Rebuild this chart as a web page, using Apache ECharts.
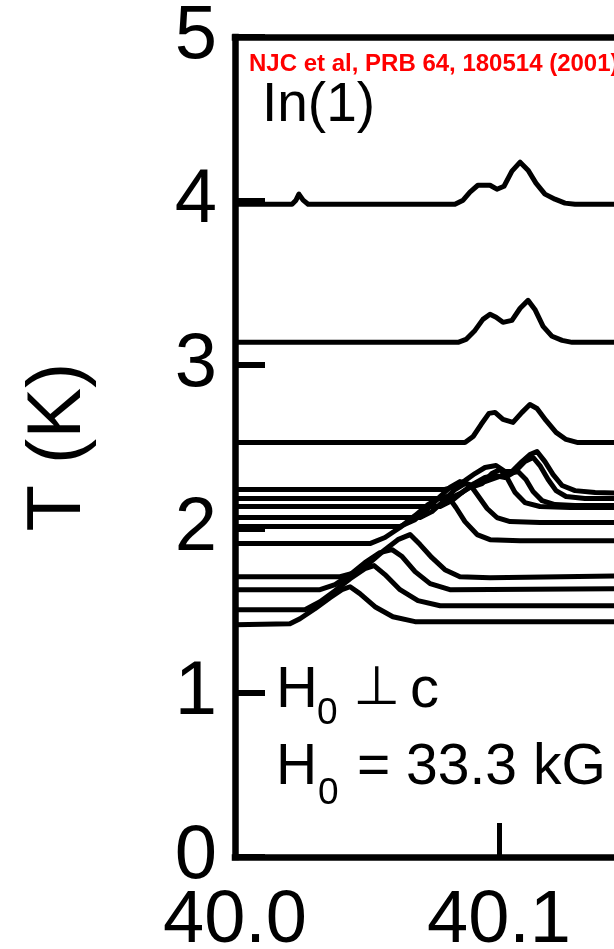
<!DOCTYPE html>
<html>
<head>
<meta charset="utf-8">
<script src="https://cdn.jsdelivr.net/npm/echarts@6/dist/echarts.min.js"></script>
<style>
html,body{margin:0;padding:0;background:#fff;}
#chart{width:614px;height:949px;}
</style>
</head>
<body>
<div id="chart"></div>
<script>
// Axis ticks
const xTicks = [40.0, 40.1, 40.2];
const yTicks = [0, 1, 2, 3, 4, 5];

// In(1) NMR spectra, each trace drawn at its temperature: [frequency (MHz), T (K)]
const trace_T398 = [[40.0000,3.980],[40.0216,3.980],[40.0231,4.005],[40.0242,4.042],[40.0258,4.005],[40.0277,3.980],[40.0833,3.980],[40.0864,4.005],[40.0890,4.054],[40.0920,4.096],[40.0966,4.096],[40.0992,4.072],[40.1019,4.090],[40.1049,4.182],[40.1080,4.237],[40.1110,4.188],[40.1140,4.109],[40.1174,4.042],[40.1212,4.011],[40.1250,3.987],[40.1288,3.980],[40.1534,3.980]];
const trace_T314 = [[40.0000,3.138],[40.0845,3.138],[40.0875,3.156],[40.0909,3.211],[40.0939,3.278],[40.0966,3.309],[40.0989,3.291],[40.1015,3.260],[40.1049,3.272],[40.1080,3.346],[40.1110,3.394],[40.1136,3.339],[40.1167,3.236],[40.1201,3.175],[40.1239,3.150],[40.1277,3.138],[40.1534,3.138]];
const trace_T253 = [[40.0000,2.527],[40.0871,2.527],[40.0902,2.564],[40.0932,2.637],[40.0962,2.705],[40.0985,2.711],[40.1015,2.668],[40.1053,2.650],[40.1087,2.711],[40.1117,2.759],[40.1144,2.735],[40.1178,2.662],[40.1216,2.589],[40.1254,2.546],[40.1299,2.527],[40.1534,2.527]];
const trace_T224 = [[40.0000,2.241],[40.0795,2.241],[40.0833,2.259],[40.0871,2.295],[40.0909,2.338],[40.0947,2.375],[40.0989,2.387],[40.1023,2.350],[40.1049,2.350],[40.1087,2.411],[40.1117,2.454],[40.1144,2.473],[40.1174,2.411],[40.1205,2.332],[40.1239,2.265],[40.1288,2.234],[40.1364,2.222],[40.1534,2.216]];
const trace_T219 = [[40.0000,2.186],[40.0814,2.186],[40.0860,2.222],[40.0905,2.277],[40.0947,2.314],[40.0985,2.326],[40.1023,2.314],[40.1061,2.350],[40.1098,2.411],[40.1129,2.436],[40.1155,2.387],[40.1186,2.302],[40.1216,2.234],[40.1254,2.198],[40.1326,2.186],[40.1534,2.186]];
const trace_T214 = [[40.0000,2.137],[40.0777,2.137],[40.0822,2.173],[40.0864,2.228],[40.0902,2.265],[40.0947,2.289],[40.0992,2.314],[40.1034,2.338],[40.1072,2.350],[40.1102,2.302],[40.1129,2.228],[40.1163,2.173],[40.1212,2.149],[40.1288,2.143],[40.1534,2.143]];
const trace_T207 = [[40.0000,2.070],[40.0701,2.070],[40.0746,2.106],[40.0788,2.167],[40.0833,2.241],[40.0871,2.277],[40.0902,2.259],[40.0936,2.277],[40.0973,2.338],[40.1004,2.363],[40.1030,2.314],[40.1061,2.222],[40.1098,2.161],[40.1155,2.137],[40.1269,2.131],[40.1534,2.131]];
const trace_T202 = [[40.0000,2.015],[40.0625,2.015],[40.0682,2.057],[40.0731,2.125],[40.0777,2.198],[40.0814,2.253],[40.0852,2.289],[40.0890,2.271],[40.0920,2.204],[40.0955,2.125],[40.0992,2.070],[40.1042,2.045],[40.1155,2.039],[40.1534,2.039]];
const trace_T191 = [[40.0000,1.911],[40.0511,1.911],[40.0568,1.948],[40.0625,2.009],[40.0682,2.082],[40.0731,2.149],[40.0777,2.192],[40.0807,2.198],[40.0837,2.131],[40.0871,2.045],[40.0917,1.966],[40.0966,1.935],[40.1080,1.929],[40.1534,1.929]];
const trace_T171 = [[40.0000,1.709],[40.0398,1.709],[40.0455,1.734],[40.0511,1.795],[40.0568,1.874],[40.0617,1.935],[40.0663,1.966],[40.0701,1.905],[40.0746,1.825],[40.0795,1.752],[40.0852,1.709],[40.0966,1.703],[40.1534,1.715]];
const trace_T163 = [[40.0000,1.630],[40.0322,1.630],[40.0379,1.661],[40.0436,1.722],[40.0492,1.795],[40.0549,1.856],[40.0595,1.874],[40.0633,1.832],[40.0682,1.740],[40.0739,1.667],[40.0814,1.630],[40.1534,1.636]];
const trace_T151 = [[40.0000,1.508],[40.0265,1.508],[40.0322,1.557],[40.0379,1.624],[40.0436,1.697],[40.0492,1.758],[40.0527,1.777],[40.0568,1.722],[40.0625,1.630],[40.0693,1.563],[40.0777,1.532],[40.1534,1.532]];
const trace_T142 = [[40.0000,1.416],[40.0208,1.422],[40.0246,1.453],[40.0303,1.514],[40.0360,1.581],[40.0405,1.630],[40.0436,1.648],[40.0473,1.606],[40.0530,1.526],[40.0598,1.465],[40.0682,1.435],[40.1534,1.435]];

const traces = [trace_T398, trace_T314, trace_T253, trace_T224, trace_T219, trace_T214,
  trace_T207, trace_T202, trace_T191, trace_T171, trace_T163, trace_T151, trace_T142];

const FONT = '"Liberation Sans", Arial, Helvetica, sans-serif';
const chart = echarts.init(document.getElementById('chart'), null, {renderer: 'canvas'});
const axisLine = {show: true, onZero: false, lineStyle: {color: '#000', width: 6.5, cap: 'square'}};

chart.setOption({
  animation: false,
  backgroundColor: '#fff',
  grid: {left: 235, top: 37, width: 528, height: 820, containLabel: false, outerBoundsMode: 'none'},
  xAxis: [{
    type: 'value', min: xTicks[0], max: xTicks[xTicks.length - 1], interval: 0.1,
    position: 'bottom', axisLine: axisLine,
    axisTick: {show: true, inside: true, length: 34, lineStyle: {color: '#000', width: 5}},
    axisLabel: {formatter: v => v.toFixed(1), fontSize: 74, color: '#000', fontFamily: FONT, margin: 28,
      showMinLabel: true, showMaxLabel: true, hideOverlap: false},
    splitLine: {show: false}
  }, {
    type: 'value', min: xTicks[0], max: xTicks[xTicks.length - 1], position: 'top',
    axisLine: axisLine, axisTick: {show: false}, axisLabel: {show: false}, splitLine: {show: false}
  }],
  yAxis: {
    type: 'value', min: yTicks[0], max: yTicks[yTicks.length - 1], interval: 1,
    axisLine: axisLine,
    axisTick: {show: true, inside: true, length: 30, lineStyle: {color: '#000', width: 6}},
    axisLabel: {fontSize: 76, color: '#000', fontFamily: FONT, margin: 18, showMinLabel: true, showMaxLabel: true},
    splitLine: {show: false},
    name: 'T (K)', nameLocation: 'middle', nameGap: 138,
    nameTextStyle: {fontSize: 76, color: '#000', fontFamily: FONT}
  },
  series: traces.map(d => ({
    type: 'line', data: d, xAxisIndex: 0, showSymbol: false, symbol: 'none',
    lineStyle: {color: '#000', width: 5, join: 'round'}, silent: true
  })),
  graphic: [
    {type: 'text', style: {text: 'NJC et al, PRB 64, 180514 (2001)', x: 249, y: 64, fill: '#ff0000',
      font: 'bold 24px ' + FONT, align: 'left', verticalAlign: 'middle'}},
    {type: 'text', style: {text: 'In(1)', x: 262, y: 106, fill: '#000',
      font: '55px ' + FONT, align: 'left', verticalAlign: 'middle'}},
    {type: 'text', style: {text: 'H', x: 276, y: 691, fill: '#000', font: '58px ' + FONT, align: 'left', verticalAlign: 'middle'}},
    {type: 'text', style: {text: '0', x: 317, y: 714, fill: '#000', font: '37px ' + FONT, align: 'left', verticalAlign: 'middle'}},
    {type: 'text', style: {text: '⊥', x: 353, y: 690, fill: '#000', font: '54px "DejaVu Sans"', align: 'left', verticalAlign: 'middle'}},
    {type: 'text', style: {text: 'c', x: 410, y: 691, fill: '#000', font: '58px ' + FONT, align: 'left', verticalAlign: 'middle'}},
    {type: 'text', style: {text: 'H', x: 276, y: 768, fill: '#000', font: '57px ' + FONT, align: 'left', verticalAlign: 'middle'}},
    {type: 'text', style: {text: '0', x: 318, y: 794, fill: '#000', font: '37px ' + FONT, align: 'left', verticalAlign: 'middle'}},
    {type: 'text', style: {text: '= 33.3 kG', x: 357, y: 768, fill: '#000', font: '57px ' + FONT, align: 'left', verticalAlign: 'middle'}}
  ]
});
</script>
</body>
</html>
